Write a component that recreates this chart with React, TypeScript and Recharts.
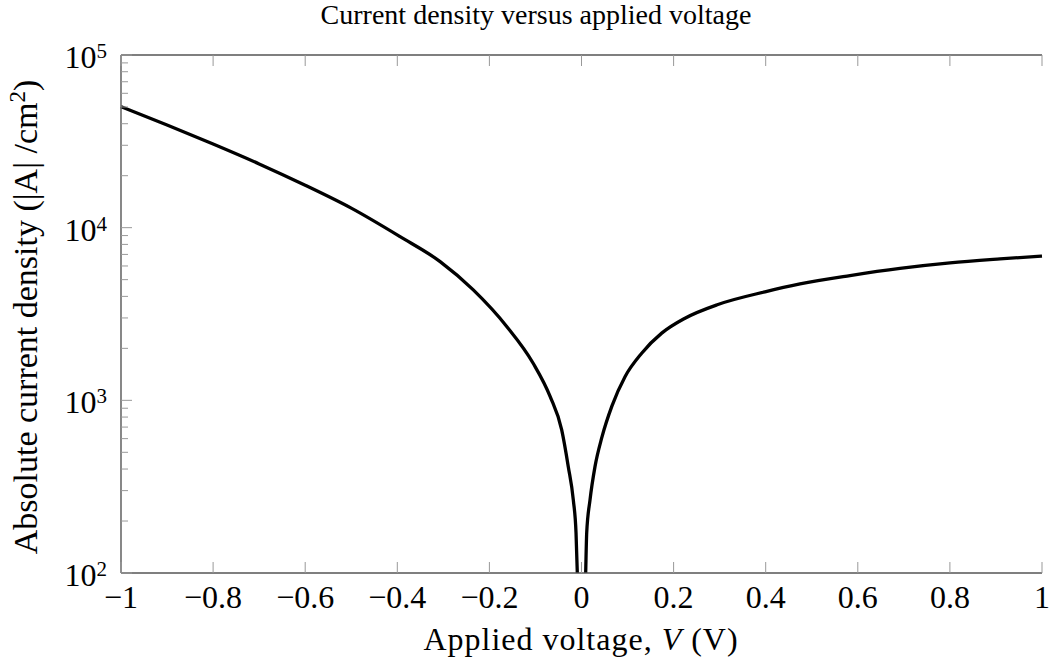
import { LineChart, Line, XAxis, YAxis } from "recharts";

// values (V in volts, |J| in A/cm^2)
const voltage = [
  -1.0, -0.9, -0.8, -0.7, -0.6, -0.5, -0.394, -0.307, -0.235, -0.162, -0.105, -0.068,
  -0.043, -0.0287, -0.0178, -0.0119, -0.0091, -0.006, 0,
  0.006, 0.0091, 0.0113, 0.0185, 0.0293, 0.0445, 0.0662, 0.0945, 0.1307, 0.1742,
  0.2248, 0.2964, 0.3985, 0.4745, 0.5831, 0.6916, 0.8002, 0.9088, 1.0,
];
const density = [
  50200, 39300, 30500, 23400, 17600, 12970, 8870, 6360, 4360, 2670, 1640, 1050,
  674, 413, 265, 171, 100, 40, 1,
  40, 100, 171, 265, 413, 614, 929, 1371, 1875, 2450,
  2990, 3590, 4250, 4720, 5280, 5810, 6250, 6590, 6850,
];

const xTicks = [-1, -0.8, -0.6, -0.4, -0.2, 0, 0.2, 0.4, 0.6, 0.8, 1];
const yDecades = [100, 1000, 10000, 100000];
const yExponents = ["2", "3", "4", "5"];
const minorSteps = [2, 3, 4, 5, 6, 7, 8, 9];

const yTicks = [
  ...yDecades,
  ...yDecades.slice(0, 3).flatMap((d) => minorSteps.map((m) => d * m)),
].sort((a, b) => a - b);

const data = voltage.map((v, i) => ({ v, j: density[i] }));

const FONT = "'Liberation Serif', 'Times New Roman', serif";
const AXIS = "#555";
const TICK = "#999";

const fmtX = (v: number) => {
  if (v === 0) return "0";
  const s = Math.abs(v).toString();
  return v < 0 ? "\u2212" + s : s;
};

function BottomTick(props: any) {
  const { x, y, payload } = props;
  return (
    <g>
      <line x1={x} x2={x} y1={y} y2={y - 11} stroke={TICK} strokeWidth={1} />
      <text x={x} y={y + 35} textAnchor="middle" fontFamily={FONT} fontSize={32} fill="#000">
        {fmtX(payload.value)}
      </text>
    </g>
  );
}

function TopTick(props: any) {
  const { x, y } = props;
  return <line x1={x} x2={x} y1={y} y2={y + 11} stroke={TICK} strokeWidth={1} />;
}

function LeftTick(props: any) {
  const { x, y, payload } = props;
  const idx = yDecades.indexOf(payload.value);
  if (idx < 0) {
    return <line x1={x} x2={x + 7} y1={y} y2={y} stroke={TICK} strokeWidth={1} />;
  }
  return (
    <g>
      <line x1={x} x2={x + 11} y1={y} y2={y} stroke={TICK} strokeWidth={1} />
      <text x={x - 14} y={y + 13} textAnchor="end" fontFamily={FONT} fontSize={32} fill="#000">
        10
        <tspan dy={-10} fontSize={21}>
          {yExponents[idx]}
        </tspan>
      </text>
    </g>
  );
}

export default function App() {
  return (
    <div style={{ position: "absolute", left: 0, top: 0, width: 1054, height: 664, background: "#fff" }}>
      <LineChart
        width={1054}
        height={664}
        data={data}
        margin={{ top: 45, right: 12, bottom: 51, left: 61 }}
      >
        <XAxis
          dataKey="v"
          type="number"
          domain={[-1, 1]}
          ticks={xTicks}
          interval={0}
          height={40}
          tickSize={0}
          tickMargin={0}
          tickLine={false}
          tick={<BottomTick />}
          stroke={AXIS}
          strokeWidth={1.4}
        />
        <XAxis
          xAxisId="top"
          orientation="top"
          dataKey="v"
          type="number"
          domain={[-1, 1]}
          ticks={xTicks}
          interval={0}
          height={10}
          tickSize={0}
          tickMargin={0}
          tickLine={false}
          tick={<TopTick />}
          stroke={AXIS}
          strokeWidth={1.4}
        />
        <YAxis
          scale="log"
          type="number"
          domain={[100, 100000]}
          allowDataOverflow
          ticks={yTicks}
          interval={0}
          width={60}
          tickSize={0}
          tickMargin={0}
          tickLine={false}
          tick={<LeftTick />}
          stroke={AXIS}
          strokeWidth={1.4}
        />
        <Line
          type="monotone"
          dataKey="j"
          stroke="#000"
          strokeWidth={3.3}
          dot={false}
          isAnimationActive={false}
        />
      </LineChart>
      <svg
        width={1054}
        height={664}
        style={{ position: "absolute", left: 0, top: 0, pointerEvents: "none" }}
      >
        <text x={536} y={24} textAnchor="middle" fontFamily={FONT} fontSize={28} fill="#000">
          Current density versus applied voltage
        </text>
        <text
          x={581}
          y={650}
          textAnchor="middle"
          fontFamily={FONT}
          fontSize={32}
          letterSpacing={1}
          fill="#000"
        >
          Applied voltage, <tspan fontStyle="italic">V</tspan> (V)
        </text>
        <text
          transform="translate(37, 317) rotate(-90)"
          textAnchor="middle"
          fontFamily={FONT}
          fontSize={34}
          fill="#000"
        >
          Absolute current density (|A| /cm
          <tspan dy={-12} fontSize={23}>2</tspan>
          <tspan dy={12}>)</tspan>
        </text>
      </svg>
    </div>
  );
}
